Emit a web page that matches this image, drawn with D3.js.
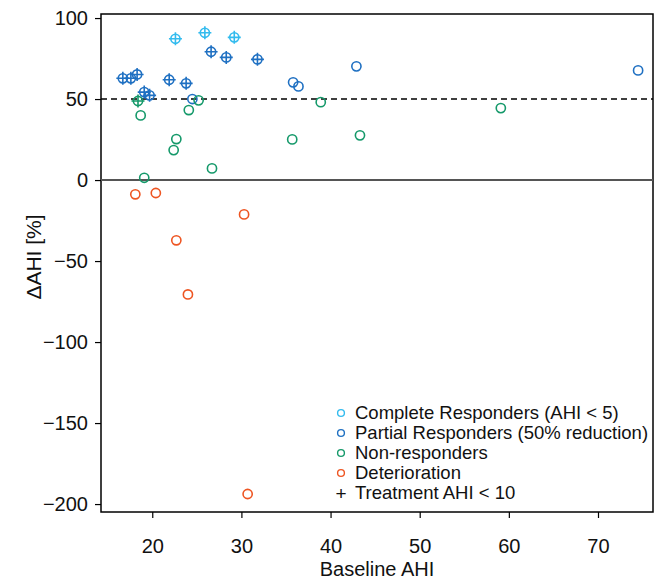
<!DOCTYPE html>
<html>
<head>
<meta charset="utf-8">
<script src="https://cdn.jsdelivr.net/npm/d3@7"></script>
<style>
  body { margin: 0; background: #fff; }
  text { font-family: "Liberation Sans", Arial, Helvetica, sans-serif; }
</style>
</head>
<body>
<div id="chart"></div>
<script>
// baseline AHI, delta AHI %, treatment AHI < 10 (1 = yes)
const completeX = [22.6, 25.9, 29.2];
const completeY = [87.2, 90.9, 88.1];
const completeT = [1, 1, 1];

const partialX = [16.7, 17.6, 18.3, 19.1, 19.7, 21.9, 23.8, 26.6, 28.3, 31.8, 24.5, 35.8, 36.4, 42.9, 74.5];
const partialY = [62.8, 62.8, 65.2, 54.3, 52.3, 61.9, 59.7, 79.2, 75.7, 74.5, 50.0, 60.3, 57.8, 70.2, 67.7];
const partialT = [1, 1, 1, 1, 1, 1, 1, 1, 1, 1, 0, 0, 0, 0, 0];

const nonX = [18.4, 18.7, 24.1, 25.2, 38.9, 22.7, 35.7, 43.3, 26.7, 22.4, 19.1, 59.1];
const nonY = [48.8, 39.9, 43.2, 49.2, 48.1, 25.3, 25.1, 27.6, 7.2, 18.5, 1.4, 44.4];
const nonT = [1, 0, 0, 0, 0, 0, 0, 0, 0, 0, 0, 0];

const detX = [18.1, 20.4, 30.3, 22.7, 24.0, 30.7];
const detY = [-8.8, -8.0, -21.2, -37.2, -70.6, -193.8];
const detT = [0, 0, 0, 0, 0, 0];

const xTicks = [20, 30, 40, 50, 60, 70];
const yTicks = [100, 50, 0, -50, -100, -150, -200];

const legendLabels = ["Complete Responders (AHI < 5)", "Partial Responders (50% reduction)", "Non-responders", "Deterioration"];
const colorList = ["#33bbee", "#1f70c2", "#15996a", "#ee5522"];

const groups = [
  {x: completeX, y: completeY, t: completeT},
  {x: partialX, y: partialY, t: partialT},
  {x: nonX, y: nonY, t: nonT},
  {x: detX, y: detY, t: detT}
];

const width = 655, height = 580;
const margin = {top: 14, right: 2, bottom: 68, left: 101};

const svg = d3.select("#chart").append("svg")
  .attr("width", width)
  .attr("height", height);

const x = d3.scaleLinear().domain([14.25, 76.17]).range([margin.left, width - margin.right]);
const y = d3.scaleLinear().domain([-204.9, 102.5]).range([height - margin.bottom, margin.top]);

// axes
svg.append("g")
  .attr("transform", "translate(0," + (height - margin.bottom) + ")")
  .call(d3.axisBottom(x).tickValues(xTicks).tickSize(6).tickSizeOuter(0).tickPadding(21))
  .call(g => g.select(".domain").remove())
  .call(g => g.selectAll("line").attr("stroke", "#000").attr("stroke-width", 1.2))
  .call(g => g.selectAll("text").attr("font-size", 20).attr("fill", "#111"));

svg.append("g")
  .attr("transform", "translate(" + margin.left + ",0)")
  .call(d3.axisLeft(y).tickValues(yTicks).tickSize(6).tickSizeOuter(0).tickPadding(7)
    .tickFormat(d => d < 0 ? "\u2212" + Math.abs(d) : d))
  .call(g => g.select(".domain").remove())
  .call(g => g.selectAll("line").attr("stroke", "#000").attr("stroke-width", 1.2))
  .call(g => g.selectAll("text").attr("font-size", 20).attr("fill", "#111"));

// frame
svg.append("rect")
  .attr("x", margin.left)
  .attr("y", margin.top)
  .attr("width", width - margin.right - margin.left)
  .attr("height", height - margin.bottom - margin.top)
  .attr("fill", "none")
  .attr("stroke", "#000")
  .attr("stroke-width", 1.5);

// reference lines
svg.append("line")
  .attr("x1", margin.left).attr("x2", width - margin.right)
  .attr("y1", y(0)).attr("y2", y(0))
  .attr("stroke", "#555").attr("stroke-width", 2);

svg.append("line")
  .attr("x1", margin.left).attr("x2", width - margin.right)
  .attr("y1", y(50)).attr("y2", y(50))
  .attr("stroke", "#000").attr("stroke-width", 1.4)
  .attr("stroke-dasharray", "6,4");

// points
groups.forEach((grp, gi) => {
  const pts = grp.x.map((v, i) => ({x: v, y: grp.y[i], t: grp.t[i]}));
  const g = svg.append("g");
  g.selectAll("circle")
    .data(pts).enter()
    .append("circle")
    .attr("cx", d => x(d.x))
    .attr("cy", d => y(d.y))
    .attr("r", 4.6)
    .attr("fill", "none")
    .attr("stroke", colorList[gi])
    .attr("stroke-width", 1.6);
  const plus = pts.filter(d => d.t === 1);
  g.selectAll("path")
    .data(plus).enter()
    .append("path")
    .attr("d", d => {
      const cx = x(d.x), cy = y(d.y), a = 6.5;
      return "M" + (cx - a) + "," + cy + "H" + (cx + a) + "M" + cx + "," + (cy - a) + "V" + (cy + a);
    })
    .attr("stroke", colorList[gi])
    .attr("stroke-width", 1.6);
});

// axis titles
svg.append("text")
  .attr("x", (margin.left + width - margin.right) / 2)
  .attr("y", 576)
  .attr("text-anchor", "middle")
  .attr("font-size", 20)
  .attr("fill", "#111")
  .text("Baseline AHI");

svg.append("text")
  .attr("transform", "translate(41," + 257 + ") rotate(-90)")
  .attr("text-anchor", "middle")
  .attr("font-size", 21)
  .attr("fill", "#111")
  .text("\u0394AHI [%]");

// legend
const legend = svg.append("g").attr("transform", "translate(341,413)");
legendLabels.forEach((lab, i) => {
  legend.append("circle")
    .attr("cx", 0).attr("cy", i * 20)
    .attr("r", 3.4)
    .attr("fill", "none")
    .attr("stroke", colorList[i])
    .attr("stroke-width", 1.4);
  legend.append("text")
    .attr("x", 14).attr("y", i * 20)
    .attr("dy", "0.35em")
    .attr("font-size", 18.5)
    .attr("fill", "#111")
    .text(lab);
});
legend.append("text")
  .attr("x", 0).attr("y", 4 * 20)
  .attr("dy", "0.35em")
  .attr("text-anchor", "middle")
  .attr("font-size", 19)
  .attr("fill", "#111")
  .text("+");
legend.append("text")
  .attr("x", 14).attr("y", 4 * 20)
  .attr("dy", "0.35em")
  .attr("font-size", 18.5)
  .attr("fill", "#111")
  .text("Treatment AHI < 10");
</script>
</body>
</html>
